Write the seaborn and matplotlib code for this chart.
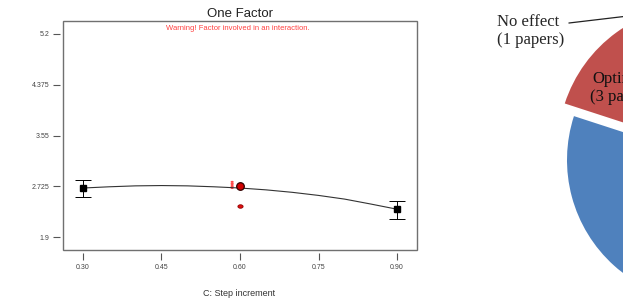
import numpy as np
import matplotlib
matplotlib.use("Agg")
import matplotlib.pyplot as plt
from matplotlib.patches import Rectangle
from matplotlib.path import Path
import seaborn as sns

# one factor plot
step = [0.30, 0.90]
pred = [2.70, 2.356]
ci_low = [2.55, 2.20]
ci_high = [2.834, 2.487]

curve_x = [0.30, 0.35, 0.40, 0.45, 0.50, 0.55, 0.60, 0.65, 0.70, 0.75, 0.80, 0.85, 0.90]
curve_y = [2.70, 2.72, 2.735, 2.74, 2.735, 2.72, 2.70, 2.67, 2.63, 2.58, 2.52, 2.44, 2.356]

design_x = [0.585, 0.585, 0.585, 0.585, 0.585]
design_y = [2.80, 2.775, 2.75, 2.725, 2.70]
center_x = [0.60]
center_y = [2.725]
low_x = [0.60]
low_y = [2.41]

xticks = [0.30, 0.45, 0.60, 0.75, 0.90]
yticks = [1.9, 2.725, 3.55, 4.375, 5.2]

# pie (only part of it is visible)
pie_labels = ["No effect", "Positive effect", "Optimum"]
pie_papers = [1, 11, 3]
pie_colors = ["#9BBB59", "#4F81BD", "#C0504D"]
pie_explode = [0, 0, 0.11]

W, H = 623, 306
sns.set_style("white")
plt.rcParams['font.family'] = ['Liberation Sans', 'DejaVu Sans']

fig = plt.figure(figsize=(W / 100, H / 100), dpi=100)

ax = fig.add_axes([63 / W, 1 - 250 / H, (417 - 63) / W, (250 - 21) / H])

sns.lineplot(x=curve_x, y=curve_y, ax=ax, color='#333333', lw=0.8)
ax.errorbar(step, pred, yerr=[np.subtract(pred, ci_low), np.subtract(ci_high, pred)],
            fmt='s', color='black', ms=4.5, capsize=5.5, elinewidth=0.7, capthick=0.7)

circ = Path.unit_circle()
ell = Path(circ.vertices * [1.5, 1.0], circ.codes)
sns.scatterplot(x=design_x, y=design_y, ax=ax, marker=ell, s=5, color='#ff4a4a', edgecolor='none')
sns.scatterplot(x=low_x, y=low_y, ax=ax, marker=ell, s=14, color='#e01010', edgecolor='#900000', linewidth=0.6)
sns.scatterplot(x=center_x, y=center_y, ax=ax, s=30, color='#d00000', edgecolor='#300000', linewidth=0.9, zorder=5)

ax.set_xlim(0.2618, 0.9382)
ax.set_ylim(1.694, 5.411)
ax.set_xticks(xticks)
ax.set_xticklabels(['%.2f' % v for v in xticks])
ax.set_yticks(yticks)
ax.set_yticklabels(['%g' % v for v in yticks])

for s in ['left', 'bottom']:
    ax.spines[s].set_position(('outward', 2.3))
for s in ax.spines.values():
    s.set_visible(False)
ax.add_patch(Rectangle((0, 0), 1, 1, transform=ax.transAxes, fill=False,
                       edgecolor='#707070', lw=1.0, clip_on=False))
ax.tick_params(direction='out', length=5, width=0.8, color='#555555',
               labelsize=5, labelcolor='#444444', pad=2.5, left=True, bottom=True)

ax.set_title("One Factor", fontsize=9.5, pad=3, color='#222222')
ax.text((238 - 63) / 354, (250 - 29) / 229, "Warning! Factor involved in an interaction.",
        transform=ax.transAxes, ha='center', va='center', fontsize=5.5, color='#ff4040')
ax.set_xlabel("C: Step increment", fontsize=6.5, color='#333333', va='center')
ax.xaxis.set_label_coords((239 - 63) / 354, -(294 - 250) / 229)

# pie axes, radius 1 = 142 px, centre at (709, 160) image px
pax = fig.add_axes([417 / W, 0, (W - 417) / W, 1])
pax.pie(pie_papers, colors=pie_colors, startangle=90, counterclock=False,
        explode=pie_explode, wedgeprops=dict(linewidth=0))
pax.set_xlim((417 - 709) / 142, (W - 709) / 142)
pax.set_ylim((160 - H) / 142, 160 / 142)
pax.set_aspect('auto')
pax.axis('off')

serif = ['Liberation Serif', 'DejaVu Serif']
pax.annotate("%s\n(%d papers)" % (pie_labels[0], pie_papers[0]),
             xy=(700, H - 7.5), xycoords='figure pixels',
             xytext=(497, H - 31), textcoords='figure pixels',
             ha='left', va='center', fontsize=12, family=serif, linespacing=1.15,
             annotation_clip=False,
             arrowprops=dict(arrowstyle='-', color='#222222', lw=0.9,
                             relpos=(1.0, 0.72), shrinkA=1, shrinkB=0))
fig.text(624 / W, 1 - 88 / H, "%s\n(%d papers)" % (pie_labels[2], pie_papers[2]),
         ha='center', va='center', multialignment='center', fontsize=12,
         family=serif, linespacing=1.15, color='#111111')

fig.savefig("out.png", dpi=100)
